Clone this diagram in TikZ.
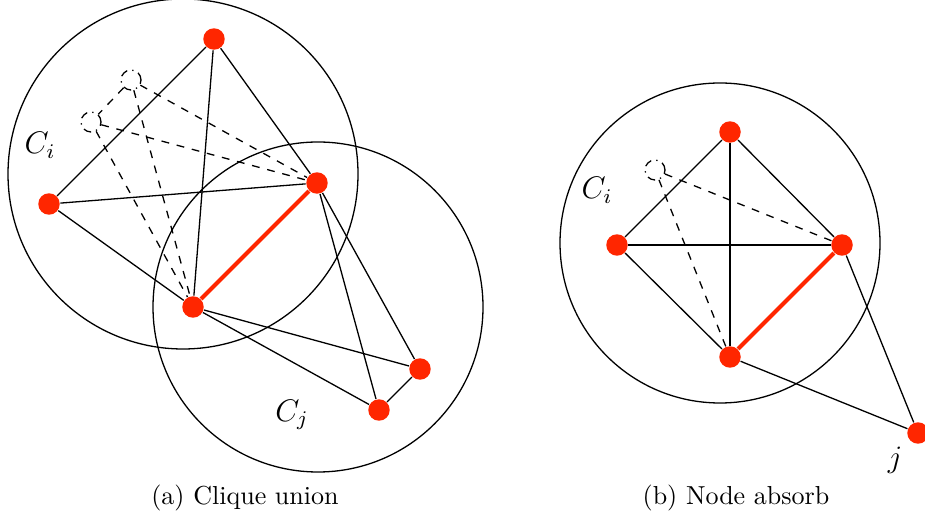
\documentclass[tikz,border=0pt]{standalone}
\usepackage{tikz,amsmath}
\usepackage{xcolor}
\definecolor{cliquered}{RGB}{255,38,0}
\tikzstyle{vertex} = [fill=cliquered, shape=circle, minimum size=.29cm, inner sep=0pt]
\tikzstyle{ghost} = [draw, dash dot, shape=circle, minimum size=.27cm, inner sep=0pt]
\tikzstyle{ghostedge} = [dashed]
\tikzstyle{mergeedge} = [cliquered, line width=1.5pt]
\tikzstyle{setlabel} = [font=\large]
\begin{document}
\begin{tikzpicture}[x=0.0135cm, y=-0.0135cm, line width=.5pt]
    \useasboundingbox (0,0) rectangle (925,523);
    % (a) clique union
    \draw (183,174) circle (175);
    \draw (318,307) circle (165);
    \draw (214,39) node[vertex] (at) {};
    \draw (317,183) node[vertex] (ar) {};
    \draw (49,204) node[vertex] (al) {};
    \draw (193,307) node[vertex] (am) {};
    \draw (420,369) node[vertex] (ab) {};
    \draw (379,410) node[vertex] (ac) {};
    \draw (131,80) node[ghost] (ag) {};
    \draw (91,122) node[ghost] (ah) {};
    \draw (at) -- (al);
    \draw (at) -- (am);
    \draw (at) -- (ar);
    \draw (al) -- (ar);
    \draw (al) -- (am);
    \draw (ar) -- (ab);
    \draw (ar) -- (ac);
    \draw (am) -- (ab);
    \draw (am) -- (ac);
    \draw (ab) -- (ac);
    \draw [mergeedge] (am) -- (ar);
    \draw [ghostedge] (ag) -- (ah);
    \draw [ghostedge] (ag) -- (ar);
    \draw [ghostedge] (ah) -- (ar);
    \draw [ghostedge] (ag) -- (am);
    \draw [ghostedge] (ah) -- (am);
    \node[setlabel] (ci) at (40,145) {$C_i$};
    \node[setlabel] (cj) at (292,415) {$C_j$};
    \node (capa) at (245,498) {(a) Clique union};
    % (b) node absorb
    \draw (720,243) circle (160);
    \draw (730,132) node[vertex] (bt) {};
    \draw (617,245) node[vertex] (bl) {};
    \draw (842,245) node[vertex] (br) {};
    \draw (730,357) node[vertex] (bb) {};
    \draw (918,433) node[vertex] (bj) {};
    \draw (655,170) node[ghost] (bg) {};
    \draw (bt) -- (bl);
    \draw (bt) -- (br);
    \draw (bt) -- (bb);
    \draw (bl) -- (br);
    \draw (bl) -- (bb);
    \draw (br) -- (bj);
    \draw (bb) -- (bj);
    \draw [mergeedge] (bb) -- (br);
    \draw [ghostedge] (bg) -- (br);
    \draw [ghostedge] (bg) -- (bb);
    \node[setlabel] (bci) at (597,190) {$C_i$};
    \node[setlabel] (bjl) at (895,460) {$j$};
    \node (capb) at (736,498) {(b) Node absorb};
\end{tikzpicture}
\end{document}
